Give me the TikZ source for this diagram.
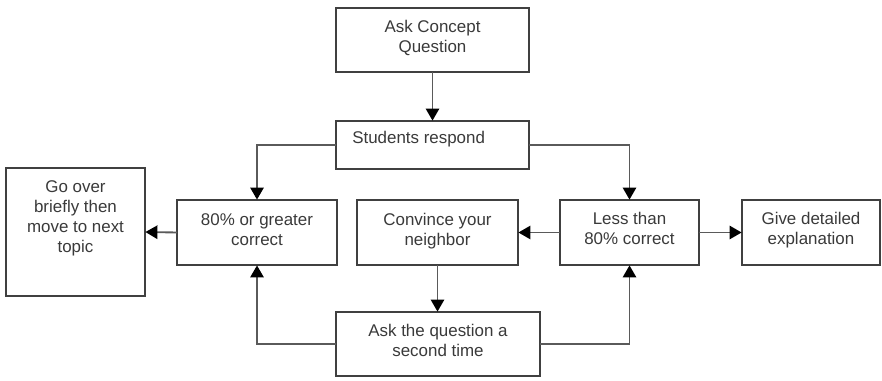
\documentclass[tikz,border=0pt]{standalone}
\usepackage{fontspec}
\setmainfont{Liberation Sans}
\usetikzlibrary{arrows.meta}
\definecolor{boxline}{HTML}{404040}
\definecolor{conline}{HTML}{5A5A5A}
\definecolor{txt}{HTML}{3A3A3A}
\tikzset{
  box/.style={draw=boxline, line width=1.6pt, fill=white, inner sep=0pt, outer sep=0pt},
  lbl/.style={anchor=north, inner sep=0pt, align=center, text=txt, font=\fontsize{12.7}{15}\selectfont},
  con/.style={draw=conline, line width=1.4pt, -{Triangle[width=10pt,length=9pt,fill=black,color=black]}, shorten >=0.3pt},
}
\begin{document}
\begin{tikzpicture}[x=0.75pt,y=-0.75pt]
\useasboundingbox (0,0) rectangle (882,381);
% boxes
\node[box, minimum width=193*0.75pt, minimum height=64*0.75pt] (q1) at (432.5,40) {};
\node[box, minimum width=193*0.75pt, minimum height=48*0.75pt] (resp) at (432.5,145) {};
\node[box, minimum width=139*0.75pt, minimum height=128*0.75pt] (goover) at (75.5,232) {};
\node[box, minimum width=160*0.75pt, minimum height=65*0.75pt] (ge80) at (257,232.5) {};
\node[box, minimum width=161*0.75pt, minimum height=65*0.75pt] (conv) at (437.5,232.5) {};
\node[box, minimum width=139*0.75pt, minimum height=65*0.75pt] (lt80) at (629.5,232.5) {};
\node[box, minimum width=138*0.75pt, minimum height=65*0.75pt] (give) at (811,232.5) {};
\node[box, minimum width=204*0.75pt, minimum height=64*0.75pt] (q2) at (438,344) {};
% texts
\node[lbl] (tq1) at (432.5,18) {\strut Ask Concept\\Question};
\node[lbl, anchor=north west] (tresp) at (352,129) {\strut Students respond};
\node[lbl] (tgo) at (75.5,178) {\strut Go over\\briefly then\\move to next\\topic};
\node[lbl] (tge) at (257,211) {\strut 80\% or greater\\correct};
\node[lbl] (tconv) at (437.5,211) {\strut Convince your\\neighbor};
\node[lbl] (tlt) at (629.5,210) {\strut Less than\\80\% correct};
\node[lbl] (tgive) at (811,210) {\strut Give detailed\\explanation};
\node[lbl] (tq2) at (438,322) {\strut Ask the question a\\second time};
% connectors
\draw[con] (q1.south) -- (resp.north);
\draw[con] (resp.west) -| (ge80.north);
\draw[con] (resp.east) -| (lt80.north);
\draw[con] (ge80.west) -- (goover.east);
\draw[con] (lt80.west) -- (conv.east);
\draw[con] (lt80.east) -- (give.west);
\draw[con] (conv.south) -- (conv.south |- q2.north);
\draw[con] (q2.west) -| (ge80.south);
\draw[con] (q2.east) -| (lt80.south);
\end{tikzpicture}
\end{document}
